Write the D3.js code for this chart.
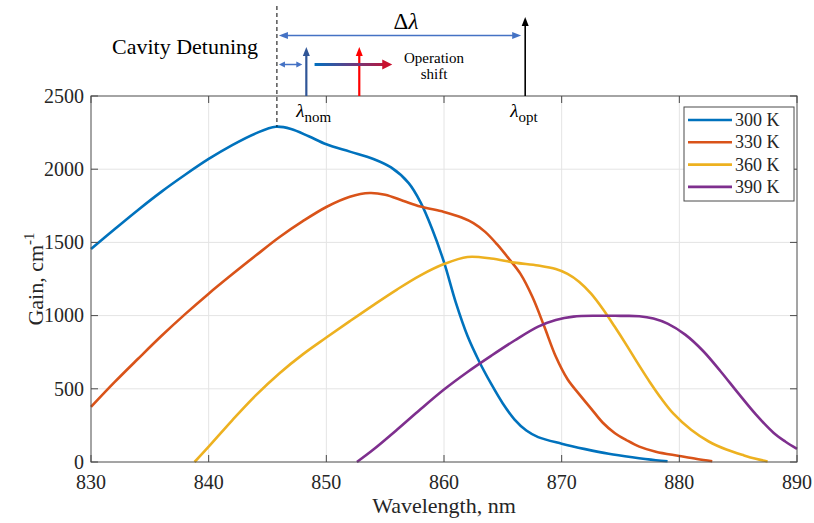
<!DOCTYPE html>
<html>
<head>
<meta charset="utf-8">
<script src="https://cdn.jsdelivr.net/npm/d3@7"></script>
<style>
  body { margin: 0; background: #fff; }
  svg { display: block; }
  text { font-family: "Times New Roman", "Liberation Serif", serif; fill: #262626; }
</style>
</head>
<body>
<svg id="chart"></svg>
<script>
// Gain spectra at four temperatures
const wavelengthTicks = [830, 840, 850, 860, 870, 880, 890];
const gainTicks = [0, 500, 1000, 1500, 2000, 2500];
const seriesNames = ["300 K", "330 K", "360 K", "390 K"];
const seriesColors = ["#0072BD", "#D95319", "#EDB120", "#7E2F8E"];

const gain300 = [
  [830, 1455], [832, 1590], [834, 1722], [836, 1847], [838, 1962], [840, 2070],
  [842, 2165], [844, 2245], [845.7, 2290], [847, 2275], [848.5, 2225], [850, 2170],
  [852, 2120], [854, 2070], [855.5, 2012], [857, 1905], [858, 1775], [859, 1590],
  [860, 1365], [861, 1090], [862, 860], [863, 685], [864, 535], [865, 400],
  [866, 290], [867, 215], [868, 170], [870, 125], [872, 88], [874, 56],
  [876, 32], [878, 12], [879, 5]
];
const gain330 = [
  [830, 376], [832, 545], [834, 705], [836, 862], [838, 1010], [840, 1150],
  [842, 1282], [844, 1410], [846, 1535], [848, 1645], [850, 1742], [852, 1812],
  [853.7, 1837], [855, 1825], [856.5, 1785], [858, 1745], [860, 1708], [861.5, 1670],
  [862.5, 1632], [863.5, 1572], [864.5, 1488], [865.5, 1390], [866.5, 1285], [867.5, 1130],
  [868.5, 930], [869.5, 720], [870.5, 565], [871.5, 462], [872.5, 365], [873.5, 268],
  [874.5, 198], [875.5, 150], [876.6, 105], [878, 70], [880, 41], [881.5, 20], [882.8, 5]
];
const gain360 = [
  [838.8, 0], [840, 105], [842, 285], [844, 455], [846, 605], [848, 735],
  [850, 850], [852, 962], [854, 1072], [856, 1178], [858, 1275], [860, 1352],
  [862, 1400], [864, 1390], [866, 1362], [868, 1342], [869.5, 1318], [870.5, 1285],
  [871.5, 1230], [872.5, 1150], [873.5, 1045], [874.5, 925], [875.5, 800], [876.5, 670],
  [877.5, 545], [878.5, 430], [879.5, 330], [881, 220], [882.5, 140], [884, 85],
  [885.5, 45], [886.5, 22], [887.5, 4]
];
const gain390 = [
  [852.6, 0], [854, 85], [856, 220], [858, 360], [860, 495], [862, 615],
  [864, 725], [866, 830], [868, 925], [869.5, 970], [871, 993], [873, 999],
  [875, 998], [876.6, 996], [877.8, 980], [879, 945], [880.5, 870], [882, 760],
  [883.5, 620], [885, 470], [886.5, 325], [888, 200], [889, 140], [890, 90]
];
const allSeries = [gain300, gain330, gain360, gain390];

// annotation wavelengths
const detuneAt = 845.8;
const lambdaNom = 848.3;
const lambdaShifted = 852.8;
const lambdaOpt = 866.9;
const shiftFrom = 849.0;
const shiftTo = 855.6;

const width = 814;
const height = 523;
const margin = { top: 96, right: 17, bottom: 61, left: 91 };

const svg = d3.select("#chart")
    .attr("width", width)
    .attr("height", height);

const x = d3.scaleLinear()
    .domain([830, 890])
    .range([margin.left, width - margin.right]);

const y = d3.scaleLinear()
    .domain([0, 2500])
    .range([height - margin.bottom, margin.top]);

const axisColor = "#4a4a4a";
const tickLen = 7;

// Grid
svg.append("g")
    .selectAll("line")
    .data(wavelengthTicks.slice(1, -1))
    .enter()
    .append("line")
    .attr("x1", d => x(d)).attr("x2", d => x(d))
    .attr("y1", y(0)).attr("y2", y(2500))
    .attr("stroke", "#e4e4e4");

svg.append("g")
    .selectAll("line")
    .data(gainTicks.slice(1, -1))
    .enter()
    .append("line")
    .attr("y1", d => y(d)).attr("y2", d => y(d))
    .attr("x1", x(830)).attr("x2", x(890))
    .attr("stroke", "#e4e4e4");

// Curves
const line = d3.line()
    .x(d => x(d[0]))
    .y(d => y(d[1]))
    .curve(d3.curveCatmullRom.alpha(0.5));

svg.append("g")
    .selectAll("path")
    .data(allSeries)
    .enter()
    .append("path")
    .attr("d", line)
    .attr("fill", "none")
    .attr("stroke", (d, i) => seriesColors[i])
    .attr("stroke-width", 2.6)
    .attr("stroke-linejoin", "round");

// Axes box with inward ticks
const box = svg.append("g");
box.append("rect")
    .attr("x", x(830)).attr("y", y(2500))
    .attr("width", x(890) - x(830)).attr("height", y(0) - y(2500))
    .attr("fill", "none")
    .attr("stroke", axisColor)
    .attr("stroke-width", 1);

wavelengthTicks.forEach(t => {
    box.append("line")
        .attr("x1", x(t)).attr("x2", x(t))
        .attr("y1", y(0)).attr("y2", y(0) - tickLen)
        .attr("stroke", axisColor);
    box.append("line")
        .attr("x1", x(t)).attr("x2", x(t))
        .attr("y1", y(2500)).attr("y2", y(2500) + tickLen)
        .attr("stroke", axisColor);
    box.append("text")
        .attr("x", x(t))
        .attr("y", y(0) + 27)
        .attr("text-anchor", "middle")
        .style("font-size", "20px")
        .text(t);
});

gainTicks.forEach(t => {
    box.append("line")
        .attr("x1", x(830)).attr("x2", x(830) + tickLen)
        .attr("y1", y(t)).attr("y2", y(t))
        .attr("stroke", axisColor);
    box.append("line")
        .attr("x1", x(890)).attr("x2", x(890) - tickLen)
        .attr("y1", y(t)).attr("y2", y(t))
        .attr("stroke", axisColor);
    box.append("text")
        .attr("x", x(830) - 7)
        .attr("y", y(t))
        .attr("dy", "0.34em")
        .attr("text-anchor", "end")
        .style("font-size", "20px")
        .text(t);
});

// Axis labels
svg.append("text")
    .attr("x", (x(830) + x(890)) / 2)
    .attr("y", 513)
    .attr("text-anchor", "middle")
    .style("font-size", "22px")
    .text("Wavelength, nm");

const yLabel = svg.append("text")
    .attr("transform", `translate(43, ${(y(0) + y(2500)) / 2}) rotate(-90)`)
    .attr("text-anchor", "middle")
    .style("font-size", "22px");
yLabel.append("tspan").text("Gain, cm");
yLabel.append("tspan")
    .attr("dy", -9)
    .style("font-size", "15px")
    .text("-1");

// Legend
const legend = svg.append("g");
legend.append("rect")
    .attr("x", 684).attr("y", 107)
    .attr("width", 110).attr("height", 94)
    .attr("fill", "#fff")
    .attr("stroke", axisColor);

const rows = legend.selectAll(".row")
    .data(seriesNames)
    .enter()
    .append("g")
    .attr("transform", (d, i) => `translate(688, ${120 + i * 22.3})`);
rows.append("line")
    .attr("x1", 0).attr("x2", 44)
    .attr("stroke", (d, i) => seriesColors[i])
    .attr("stroke-width", 2.6);
rows.append("text")
    .attr("x", 47)
    .attr("dy", "0.34em")
    .style("font-size", "18px")
    .text(d => d);

// Annotations above the axes
function drawHead(g, tipX, tipY, angle, len, wid, color) {
    const bx = tipX - Math.cos(angle) * len;
    const by = tipY - Math.sin(angle) * len;
    const px = -Math.sin(angle) * wid / 2;
    const py = Math.cos(angle) * wid / 2;
    g.append("path")
        .attr("d", `M${tipX},${tipY}L${bx + px},${by + py}L${bx - px},${by - py}Z`)
        .attr("fill", color);
}

function drawArrow(g, x1, y1, x2, y2, opts) {
    const angle = Math.atan2(y2 - y1, x2 - x1);
    const trim = opts.head * 0.7;
    const sx = opts.both ? x1 + Math.cos(angle) * trim : x1;
    const sy = opts.both ? y1 + Math.sin(angle) * trim : y1;
    g.append("line")
        .attr("x1", sx).attr("y1", sy)
        .attr("x2", x2 - Math.cos(angle) * trim)
        .attr("y2", y2 - Math.sin(angle) * trim)
        .attr("stroke", opts.stroke || opts.color)
        .attr("stroke-width", opts.width);
    drawHead(g, x2, y2, angle, opts.head, opts.headW, opts.color);
    if (opts.both) drawHead(g, x1, y1, angle + Math.PI, opts.head, opts.headW, opts.color);
}

const ann = svg.append("g");

const defs = svg.append("defs");
const grad = defs.append("linearGradient")
    .attr("id", "shiftGrad")
    .attr("gradientUnits", "userSpaceOnUse")
    .attr("x1", x(shiftFrom)).attr("x2", x(shiftTo))
    .attr("y1", 0).attr("y2", 0);
grad.append("stop").attr("offset", "0%").attr("stop-color", "#0070C0");
grad.append("stop").attr("offset", "50%").attr("stop-color", "#6a3a80");
grad.append("stop").attr("offset", "100%").attr("stop-color", "#C8102E");

// cavity detuning dashed marker
ann.append("line")
    .attr("x1", x(detuneAt)).attr("x2", x(detuneAt))
    .attr("y1", 6).attr("y2", y(2290))
    .attr("stroke", "#000")
    .attr("stroke-width", 1)
    .attr("stroke-dasharray", "4,3");

ann.append("text")
    .attr("x", 112)
    .attr("y", 54)
    .style("font-size", "22px")
    .style("fill", "#000")
    .text("Cavity Detuning");

// delta lambda
drawArrow(ann, x(detuneAt) + 2, 35.5, x(lambdaOpt) - 4, 35.5,
    { color: "#4472C4", width: 1.3, head: 9, headW: 7, both: true });
const dl = ann.append("text")
    .attr("x", 406)
    .attr("y", 29)
    .attr("text-anchor", "middle")
    .style("font-size", "23px")
    .style("fill", "#000");
dl.append("tspan").text("Δ");
dl.append("tspan").style("font-style", "italic").text("λ");

// small detuning arrow
drawArrow(ann, x(detuneAt) + 2, 64.5, x(lambdaNom) - 4, 64.5,
    { color: "#4472C4", width: 1.5, head: 6, headW: 6, both: true });

// vertical markers
drawArrow(ann, x(lambdaNom), y(2500), x(lambdaNom), 47,
    { color: "#2F5597", width: 2.2, head: 9, headW: 7 });
drawArrow(ann, x(lambdaShifted), y(2500), x(lambdaShifted), 47,
    { color: "#FF0000", width: 2.2, head: 9, headW: 7 });
drawArrow(ann, x(lambdaOpt), y(2500), x(lambdaOpt), 17,
    { color: "#000", width: 1.6, head: 9, headW: 7 });

// operation shift arrow
drawArrow(ann, x(shiftFrom), 64.5, x(shiftTo), 64.5,
    { color: "#C8102E", stroke: "url(#shiftGrad)", width: 3.2, head: 10, headW: 10 });

ann.append("text")
    .attr("x", 434).attr("y", 63)
    .attr("text-anchor", "middle")
    .style("font-size", "15px")
    .style("fill", "#000")
    .text("Operation");
ann.append("text")
    .attr("x", 434).attr("y", 79)
    .attr("text-anchor", "middle")
    .style("font-size", "15px")
    .style("fill", "#000")
    .text("shift");

// lambda labels
function lambdaLabel(px, sub) {
    const t = ann.append("text")
        .attr("x", px)
        .attr("y", 117)
        .style("font-size", "19px")
        .style("fill", "#000");
    t.append("tspan").style("font-style", "italic").text("λ");
    t.append("tspan")
        .attr("dy", 5)
        .style("font-size", "15px")
        .text(sub);
}
lambdaLabel(x(lambdaNom) - 10, "nom");
lambdaLabel(x(lambdaOpt) - 15, "opt");
</script>
</body>
</html>
